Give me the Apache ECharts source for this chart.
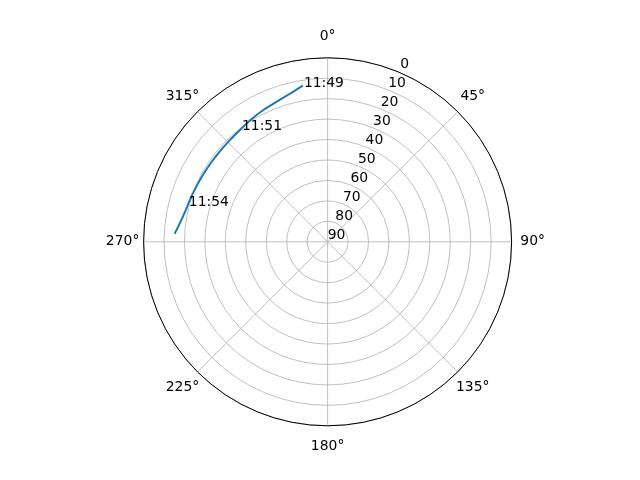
<!DOCTYPE html>
<html>
<head>
<meta charset="utf-8">
<script src="https://cdn.jsdelivr.net/npm/echarts@6/dist/echarts.min.js"></script>
<style>
  html, body { margin: 0; padding: 0; background: #fff; }
  #chart { width: 640px; height: 480px; }
</style>
</head>
<body>
<div id="chart"></div>
<script>
// sky track: azimuth (deg), elevation (deg), time tags
var azimuth   = [351, 347, 341.5, 334, 327.5, 322.5, 316, 310, 304, 297, 290, 284.8, 281, 277, 273];
var elevation = [12.7, 14.7, 16.7, 18.3, 19.5, 20.4, 21.0, 21.2, 21.1, 20.7, 20.0, 19.3, 18.5, 17.1, 15.1];
var timeTags  = ['11:49', '', '', '', '', '11:51', '', '', '', '', '', '11:54', '', '', ''];
var angleTicks = [0, 45, 90, 135, 180, 225, 270, 315];
var elevTicks  = [0, 10, 20, 30, 40, 50, 60, 70, 80, 90];

var font = 'DejaVu Sans';
var fs = 13.9;
var cx = 327.6, cy = 241.8, R = 184;

var track = azimuth.map(function (a, i) {
    if (!timeTags[i]) {
        return { value: [elevation[i], a], symbol: 'none' };
    }
    return {
        value: [elevation[i], a],
        label: {
            show: true,
            formatter: timeTags[i],
            position: 'right',
            distance: 0,
            verticalAlign: 'bottom',
            offset: [0, 4.5],
            color: '#000',
            fontFamily: font,
            fontSize: fs
        }
    };
});

var chart = echarts.init(document.getElementById('chart'));
chart.setOption({
    animation: false,
    polar: [
        { center: [cx, cy], radius: R },
        // only carries the elevation labels, shifted like matplotlib's rlabels
        { center: [cx + 9, cy - 6], radius: R }
    ],
    angleAxis: [
        {
            polarIndex: 0,
            type: 'value',
            min: 0,
            max: 360,
            interval: 45,
            startAngle: 90,
            clockwise: true,
            axisLine: { lineStyle: { color: '#000', width: 1 } },
            axisTick: { show: false },
            axisLabel: {
                // tiny box so every label is centred on its anchor
                formatter: function (v) { return angleTicks.indexOf(v) >= 0 ? '{c|' + v + '°}' : ''; },
                margin: 20.5,
                rich: {
                    c: {
                        width: 1,
                        height: 1,
                        lineHeight: 1,
                        align: 'center',
                        verticalAlign: 'middle',
                        color: '#000',
                        fontFamily: font,
                        fontSize: fs
                    }
                }
            },
            splitLine: { show: true, lineStyle: { color: '#b0b0b0', width: 0.8 } }
        },
        {
            polarIndex: 1,
            type: 'value',
            min: 0,
            max: 360,
            startAngle: 68.3,
            clockwise: true,
            show: false
        }
    ],
    radiusAxis: [
        {
            polarIndex: 0,
            type: 'value',
            min: 0,
            max: 90,
            interval: 10,
            inverse: true,
            axisLine: { show: false },
            axisTick: { show: false },
            axisLabel: { show: false },
            splitLine: { show: true, lineStyle: { color: '#b0b0b0', width: 0.8 } }
        },
        {
            polarIndex: 1,
            type: 'value',
            min: 0,
            max: 90,
            interval: 10,
            inverse: true,
            axisLine: { show: false },
            axisTick: { show: false },
            splitLine: { show: false },
            axisLabel: {
                formatter: function (v) { return elevTicks.indexOf(v) >= 0 ? String(v) : ''; },
                margin: 0,
                align: 'center',
                verticalAlign: 'middle',
                color: '#000',
                fontFamily: font,
                fontSize: fs
            }
        }
    ],
    series: [
        {
            type: 'line',
            coordinateSystem: 'polar',
            polarIndex: 0,
            data: track,
            smooth: 0.3,
            symbol: 'circle',
            symbolSize: 2,
            showSymbol: true,
            itemStyle: { color: 'rgba(0,0,0,0)' },
            lineStyle: { color: '#1f77b4', width: 2 },
            z: 5
        }
    ]
});
</script>
</body>
</html>
